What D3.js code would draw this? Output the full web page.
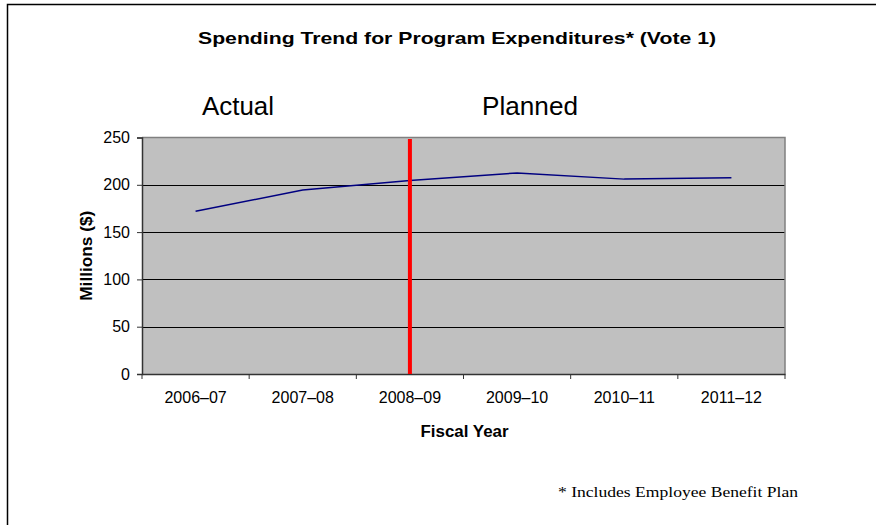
<!DOCTYPE html>
<html><head><meta charset="utf-8">
<script src="https://cdn.jsdelivr.net/npm/d3@7"></script>
<style>body{margin:0;background:#fff}svg{display:block}</style>
</head><body>
<svg id="c" width="876" height="525"></svg>
<script>
const categories = ["2006–07","2007–08","2008–09","2009–10","2010–11","2011–12"];
const spending = [172, 194.5, 204.5, 212.5, 206, 207.5];
const yTicks = [0, 50, 100, 150, 200, 250];
const dividerCategory = "2008–09";

const svg = d3.select("#c");
const m = {l:142, r:785, t:137.5, b:374};
const x = d3.scaleBand().domain(categories).range([m.l, m.r]);
const y = d3.scaleLinear().domain([0,250]).range([m.b, m.t]);

// outer border (left and top visible)
svg.append("path").attr("d","M7.5,525 V4.5 H876").attr("fill","none").attr("stroke","#000").attr("stroke-width",1.5);

// plot area
svg.append("rect").attr("x",m.l).attr("y",m.t).attr("width",m.r-m.l).attr("height",m.b-m.t).attr("fill","#c0c0c0");

// gridlines
svg.append("g").selectAll("line").data(yTicks.filter(d=>d>0 && d<250)).join("line")
  .attr("x1",m.l).attr("x2",m.r).attr("y1",d=>Math.round(y(d))+0.5).attr("y2",d=>Math.round(y(d))+0.5)
  .attr("stroke","#000").attr("stroke-width",1);

// top & right border
svg.append("path").attr("d",`M${m.l},${m.t} H${m.r} V${m.b}`).attr("fill","none").attr("stroke","#808080").attr("stroke-width",1.5);

// y axis
const ya = d3.axisLeft(y).tickValues(yTicks).tickSize(5).tickPadding(7);
const gy = svg.append("g").attr("transform",`translate(${m.l},0)`).call(ya);
gy.select(".domain").attr("stroke","#333").attr("stroke-width",1.5);
gy.selectAll(".tick line").attr("stroke","#333");
gy.selectAll("text").attr("font-family","Liberation Sans, Arial, sans-serif").attr("font-size",16).attr("fill","#000");

// x axis
const xa = d3.axisBottom(x).tickSize(0).tickPadding(18);
const gx = svg.append("g").attr("transform",`translate(0,${m.b})`).call(xa);
gx.select(".domain").attr("stroke","#333").attr("stroke-width",1.5);
gx.selectAll("text").attr("font-family","Liberation Sans, Arial, sans-serif").attr("font-size",16).attr("fill","#000");
// category boundary ticks
svg.append("g").selectAll("line").data(categories.map(c=>x(c)).concat([m.r])).join("line")
  .attr("x1",d=>d).attr("x2",d=>d).attr("y1",m.b).attr("y2",m.b+5).attr("stroke","#333").attr("stroke-width",1);

// line
const line = d3.line().x((d,i)=>x(categories[i])+x.bandwidth()/2).y(d=>y(d));
svg.append("path").datum(spending).attr("d",line).attr("fill","none").attr("stroke","#000080").attr("stroke-width",1.5);

// red divider
const dx = x(dividerCategory)+x.bandwidth()/2;
svg.append("line").attr("x1",dx).attr("x2",dx).attr("y1",139).attr("y2",m.b).attr("stroke","#ff0000").attr("stroke-width",4);

// texts
const sans = "Liberation Sans, Arial, sans-serif";
svg.append("text").attr("x",457).attr("y",44).attr("text-anchor","middle").attr("font-family",sans).attr("font-weight","bold").attr("font-size",16.5)
  .attr("textLength",518).attr("lengthAdjust","spacingAndGlyphs")
  .text("Spending Trend for Program Expenditures* (Vote 1)");
svg.append("text").attr("x",202).attr("y",115).attr("font-family",sans).attr("font-size",25)
  .attr("textLength",72).attr("lengthAdjust","spacingAndGlyphs").text("Actual");
svg.append("text").attr("x",482).attr("y",115).attr("font-family",sans).attr("font-size",25)
  .attr("textLength",96).attr("lengthAdjust","spacingAndGlyphs").text("Planned");
svg.append("text").attr("x",464.5).attr("y",437).attr("text-anchor","middle").attr("font-family",sans).attr("font-weight","bold").attr("font-size",16)
  .attr("textLength",88).attr("lengthAdjust","spacingAndGlyphs").text("Fiscal Year");
svg.append("text").attr("transform",`translate(92,${(m.t+m.b)/2}) rotate(-90)`).attr("text-anchor","middle").attr("font-family",sans).attr("font-weight","bold").attr("font-size",16)
  .attr("textLength",90).attr("lengthAdjust","spacingAndGlyphs").text("Millions ($)");
svg.append("text").attr("x",558).attr("y",497).attr("font-family","Liberation Serif, Times New Roman, serif").attr("font-size",15.5)
  .attr("textLength",240).attr("lengthAdjust","spacingAndGlyphs").text("* Includes Employee Benefit Plan");
</script>
</body></html>
